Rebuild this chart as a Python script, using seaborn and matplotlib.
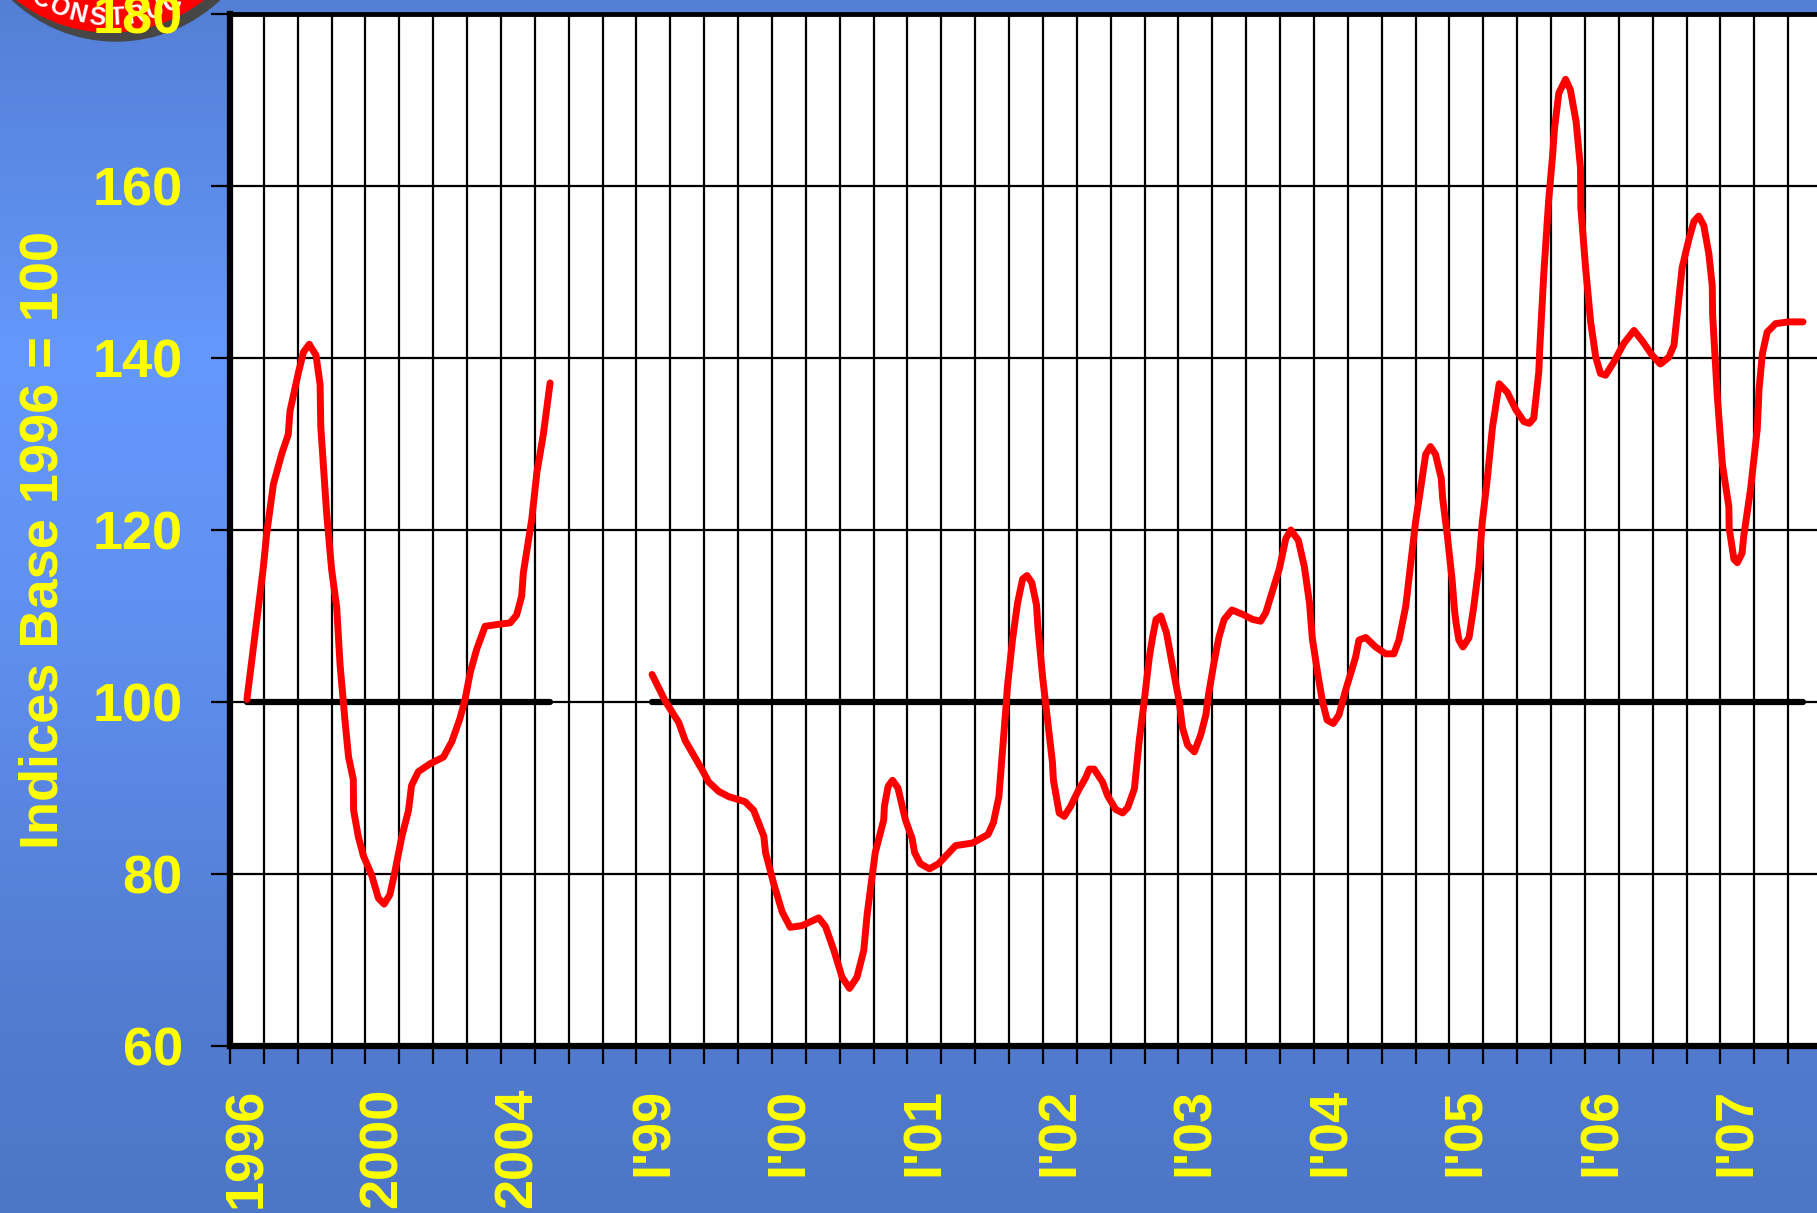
import numpy as np
import pandas as pd
import matplotlib
matplotlib.use('Agg')
import matplotlib.pyplot as plt
from matplotlib.patches import Circle
import seaborn as sns

# --- data (x = category slot, v = index value) ---
x_labels = ['1996', '2000', '2004', "I'99", "I'00", "I'01", "I'02",
            "I'03", "I'04", "I'05", "I'06", "I'07"]
x_label_pos = [0, 4, 8, 12, 16, 20, 24, 28, 32, 36, 40, 44]
y_ticks = [60, 80, 100, 120, 140, 160, 180]

# annual part 1996-2004
ann_x = [0.0, 0.48, 0.58, 0.78, 1.03, 1.22, 1.27, 1.52, 1.67, 1.84,
         2.04, 2.16, 2.18, 2.35, 2.5, 2.65, 2.75, 2.9, 3.0, 3.14,
         3.15, 3.29, 3.44, 3.68, 3.88, 4.05, 4.22, 4.37, 4.57, 4.77,
         4.86, 5.06, 5.4, 5.8, 6.05, 6.29, 6.44, 6.59, 6.78, 7.03,
         7.37, 7.77, 7.96, 8.11, 8.16, 8.41, 8.56, 8.75, 8.95]
ann_v = [100.3, 115.5, 119.5, 125.3, 128.9, 131.1, 133.8, 138.3, 140.7, 141.6,
         140.3, 136.9, 132.0, 122.1, 115.4, 111.0, 104.3, 97.6, 93.6, 91.0,
         87.4, 84.3, 82.1, 79.9, 77.2, 76.5, 77.6, 80.3, 84.3, 87.4,
         90.3, 91.9, 92.8, 93.6, 95.4, 98.1, 100.3, 103.4, 106.1, 108.8,
         109.0, 109.2, 110.1, 112.3, 115.0, 121.3, 126.7, 131.1, 137.1]

# quarterly part I'99 - III'07
q_x = [11.96, 12.35, 12.75, 12.94, 13.44, 13.63, 13.93, 14.22, 14.71, 14.96,
       15.26, 15.31, 15.55, 15.8, 16.04, 16.39, 16.88, 17.08, 17.33, 17.57,
       17.79, 18.01, 18.21, 18.31, 18.55, 18.8, 18.82, 18.93, 19.06, 19.22,
       19.44, 19.64, 19.71, 19.88, 20.15, 20.42, 20.92, 21.42, 21.88, 22.04,
       22.2, 22.3, 22.4, 22.45, 22.6, 22.75, 22.9, 23.03, 23.17, 23.31,
       23.35, 23.49, 23.64, 23.78, 23.81, 23.98, 24.13, 24.32, 24.57, 24.75,
       24.87, 25.01, 25.26, 25.41, 25.65, 25.85, 26.0, 26.2, 26.34, 26.49,
       26.64, 26.74, 26.84, 26.98, 27.15, 27.33, 27.52, 27.62, 27.77, 27.97,
       28.16, 28.31, 28.39, 28.56, 28.7, 28.85, 29.08, 29.39, 29.69, 29.93,
       30.08, 30.23, 30.48, 30.67, 30.82, 31.04, 31.22, 31.37, 31.45, 31.6,
       31.75, 31.89, 32.07, 32.24, 32.43, 32.73, 32.83, 33.03, 33.32, 33.62,
       33.86, 34.01, 34.21, 34.35, 34.5, 34.65, 34.8, 34.94, 35.09, 35.26,
       35.3, 35.44, 35.58, 35.65, 35.7, 35.78, 35.9, 36.08, 36.22, 36.37,
       36.47, 36.62, 36.77, 36.97, 37.21, 37.46, 37.7, 37.86, 37.99, 38.14,
       38.17, 38.29, 38.43, 38.55, 38.6, 38.73, 38.93, 39.07, 39.24, 39.37,
       39.38, 39.52, 39.67, 39.82, 39.96, 40.11, 40.35, 40.65, 40.95, 41.19,
       41.49, 41.73, 41.98, 42.13, 42.27, 42.37, 42.57, 42.72, 42.86, 43.01,
       43.16, 43.26, 43.27, 43.41, 43.56, 43.75, 43.76, 43.9, 44.0, 44.14,
       44.19, 44.39, 44.59, 44.64, 44.74, 44.88, 45.13, 45.52, 45.94]
q_v = [103.2, 100.1, 97.6, 95.5, 92.1, 90.7, 89.6, 89.0, 88.4, 87.4,
       84.4, 82.5, 78.9, 75.6, 73.8, 74.0, 74.9, 73.9, 71.1, 68.0,
       66.7, 68.0, 71.1, 75.3, 82.5, 86.3, 87.9, 90.2, 90.9, 90.0,
       86.3, 84.1, 82.5, 81.2, 80.6, 81.2, 83.3, 83.6, 84.6, 86.0,
       89.0, 94.0, 99.0, 101.7, 107.2, 111.5, 114.3, 114.7, 113.9, 111.3,
       108.8, 102.9, 97.8, 93.0, 90.9, 87.1, 86.7, 87.9, 89.9, 91.1,
       92.2, 92.2, 90.7, 89.1, 87.5, 87.1, 87.7, 89.9, 95.4, 100.1,
       105.2, 107.6, 109.6, 110.0, 108.0, 104.1, 100.1, 97.0, 95.0, 94.2,
       96.2, 98.5, 100.9, 104.8, 107.6, 109.6, 110.7, 110.2, 109.6, 109.4,
       110.4, 112.3, 115.5, 119.0, 120.0, 118.8, 115.7, 111.5, 107.5, 103.6,
       100.1, 97.9, 97.5, 98.5, 101.3, 105.2, 107.2, 107.5, 106.4, 105.6,
       105.6, 107.2, 111.1, 115.8, 120.9, 124.8, 128.8, 129.7, 128.8, 126.0,
       123.7, 119.3, 114.2, 110.7, 109.1, 107.2, 106.4, 107.5, 111.1, 115.8,
       120.9, 126.0, 131.9, 137.0, 136.0, 134.0, 132.6, 132.4, 133.0, 138.4,
       141.3, 150.0, 158.3, 163.7, 166.6, 170.8, 172.4, 171.2, 167.5, 162.1,
       157.5, 150.5, 144.2, 140.1, 138.2, 138.0, 139.5, 141.7, 143.2, 142.0,
       140.3, 139.3, 140.1, 141.5, 146.7, 150.5, 153.8, 155.9, 156.5, 155.4,
       152.1, 148.4, 145.1, 135.5, 127.6, 122.7, 120.2, 116.6, 116.2, 117.3,
       119.3, 124.7, 131.8, 136.3, 140.5, 143.0, 144.0, 144.2, 144.2]

# base = 100 reference lines
base_ann_x = [0.0, 8.95]
base_q_x = [11.96, 45.94]
base_v = [100, 100]

assert len(ann_x) == len(ann_v) and len(q_x) == len(q_v)

line_df = pd.concat([
    pd.DataFrame({'x': ann_x, 'v': ann_v, 'seg': 'annual'}),
    pd.DataFrame({'x': q_x, 'v': q_v, 'seg': 'quarterly'}),
])
base_df = pd.concat([
    pd.DataFrame({'x': base_ann_x, 'v': base_v, 'seg': 'annual'}),
    pd.DataFrame({'x': base_q_x, 'v': base_v, 'seg': 'quarterly'}),
])

sns.set_theme(style='white')
plt.rcParams['font.family'] = ['Liberation Sans', 'DejaVu Sans']
plt.rcParams['font.weight'] = 'bold'

W, H = 1817, 1213
fig = plt.figure(figsize=(W / 100, H / 100), dpi=100)

# blue gradient background
bg = fig.add_axes([0, 0, 1, 1], zorder=0)
stops_y = [0, 150, 350, 600, 800, 1000, 1213]
stops_c = np.array([(84, 127, 214), (90, 137, 228), (101, 152, 252),
                    (96, 145, 242), (90, 134, 225), (82, 124, 208),
                    (78, 118, 198)]) / 255.0
rows = np.arange(H)
grad = np.stack([np.interp(rows, stops_y, stops_c[:, i]) for i in range(3)], axis=-1)
bg.imshow(grad[:, None, :], extent=[0, W, H, 0], aspect='auto')
bg.set_xlim(0, W)
bg.set_ylim(H, 0)
bg.axis('off')

# logo in the top-left corner
bg.add_patch(Circle((116, -110), 151, color='#464646'))
bg.add_patch(Circle((110, -119), 151, color='#ff0000'))
for i, ch in enumerate('CONSTRUCTION'):
    a = np.deg2rad(-120 + 8.2 * i)
    bg.text(110 + 137 * np.cos(a), -119 - 137 * np.sin(a), ch, color='white',
            fontsize=18, ha='center', va='center', rotation=np.rad2deg(a) + 90)

# main chart
ax = fig.add_axes([230 / W, 167 / H, 1592 / W, 1032 / H], zorder=1)
ax.set_facecolor('white')

sns.lineplot(data=base_df, x='x', y='v', units='seg', estimator=None, sort=False,
             color='black', lw=4.5, ax=ax, legend=False, zorder=2)
sns.lineplot(data=line_df, x='x', y='v', units='seg', estimator=None, sort=False,
             color='#ff0000', lw=5, solid_joinstyle='round', ax=ax, legend=False, zorder=3)

ax.set_xlim(-0.5, 46.5)
ax.set_ylim(60, 180)
ax.set_xticks(x_label_pos)
ax.set_xticklabels(x_labels)
ax.set_xticks(np.arange(-0.5, 47, 1), minor=True)
ax.set_yticks(y_ticks)
ax.set_xlabel('')
ax.set_ylabel('')

ax.tick_params(axis='x', which='major', length=0, pad=30, labelsize=39,
               labelcolor='#ffff00', labelrotation=90)
ax.tick_params(axis='x', which='minor', bottom=True, length=13, width=1.6, color='black')
ax.tick_params(axis='y', which='major', left=True, length=14, width=1.6, color='black',
               pad=20, labelsize=39, labelcolor='#ffff00')

ax.xaxis.grid(True, which='minor', color='black', lw=1.6)
ax.yaxis.grid(True, which='major', color='black', lw=1.6)
ax.set_axisbelow(True)

for side, w in [('left', 4.5), ('bottom', 4.5), ('top', 3.5)]:
    ax.spines[side].set_visible(True)
    ax.spines[side].set_color('black')
    ax.spines[side].set_linewidth(w)
ax.spines['right'].set_visible(False)

fig.text(44 / W, 0.555, 'Indices Base 1996 = 100', rotation=90, ha='center', va='center',
         fontsize=39, color='#ffff00')

fig.savefig('out.png', dpi=100)
